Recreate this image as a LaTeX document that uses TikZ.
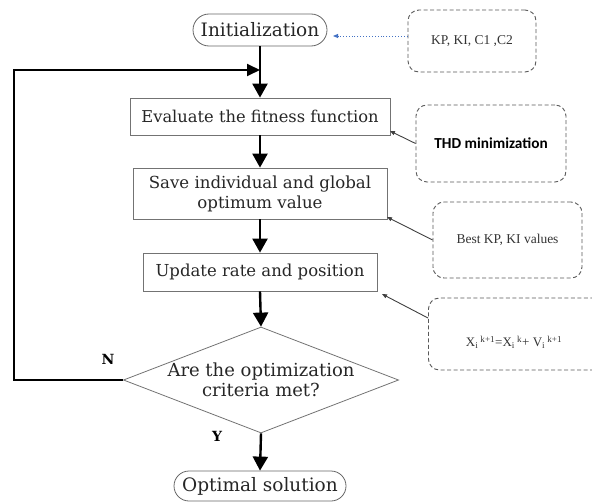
\documentclass[tikz,border=0pt]{standalone}
\usepackage{fontspec}
\newfontfamily\timesf{Liberation Serif}
\newfontfamily\calib{Carlito}
\newfontfamily\dvs{DejaVu Serif}
\usetikzlibrary{arrows.meta,shapes.geometric,shapes.misc}
\definecolor{linkblue}{RGB}{68,114,196}
\begin{document}
\begin{tikzpicture}[x=1pt,y=-1pt,
  proc/.style={draw=black!55,line width=0.8pt,minimum height=#1,inner sep=1pt,align=center,text=black!85},
  term/.style={draw=black!60,line width=0.8pt,rounded rectangle,inner sep=1pt,text=black!85},
  note/.style={draw=black!65,dashed,line width=0.9pt,rounded corners=11pt,dash pattern=on 4pt off 2.5pt},
  flow/.style={line width=2.4pt,-{Triangle[length=14pt,width=15pt]}},
  thin/.style={draw=black!75,line width=0.9pt,-{Triangle[length=5pt,width=4pt]}}]
\useasboundingbox (0,0) rectangle (592,503);
% main flow
\node[term,minimum width=136pt,minimum height=32pt,font=\dvs\fontsize{18.5}{20}\selectfont] (init) at (260,30) {Initialization};
\node[proc=37pt,minimum width=260pt,font=\dvs\fontsize{16.3}{20}\selectfont] (eval) at (260,116.5) {Evaluate the fitness function};
\node[proc=51pt,minimum width=254pt,font=\dvs\fontsize{16.6}{20}\selectfont] (save) at (260,193.5) {Save individual and global\\optimum value};
\node[proc=38pt,minimum width=234pt,font=\dvs\fontsize{16.5}{20}\selectfont] (upd) at (260,272) {Update rate and position};
\node[draw=black!55,line width=0.8pt,diamond,aspect=2.6,minimum width=274pt,minimum height=106pt,inner sep=0pt,font=\dvs\fontsize{18}{20}\selectfont,align=center,text=black!85] (dec) at (261,380) {Are the optimization\\criteria met?};
\node[term,minimum width=174pt,minimum height=30pt,font=\dvs\fontsize{18.5}{20}\selectfont] (opt) at (260,486) {Optimal solution};
\coordinate (join) at (260,70);
\coordinate (lc1) at (14,380);
\coordinate (lc2) at (14,70);
\draw[line width=2.4pt] (init.south) -- (join);
\draw[flow] (join) -- (eval.north);
\draw[flow] (eval.south) -- (save.north);
\draw[flow] (save.south) -- (upd.north);
\draw[flow] (upd.south) -- (dec.north);
\draw[flow] (dec.south) -- (opt.north);
\draw[line width=1.8pt,-{Triangle[length=13pt,width=12pt]}] (dec.west) -- (lc1) -- (lc2) -- (join);
\node[font=\dvs\bfseries\fontsize{14}{15}\selectfont] (nlab) at (108,359) {N};
\node[font=\dvs\bfseries\fontsize{14}{15}\selectfont] (ylab) at (217,436) {Y};
% notes
\node[note,minimum width=128pt,minimum height=62pt,font=\timesf\fontsize{13.5}{15}\selectfont,text=black!80] (n1) at (472,41) {KP, KI, C1 ,C2};
\node[note,minimum width=150pt,minimum height=77pt,font=\calib\bfseries\fontsize{15.3}{16}\selectfont] (n2) at (491,143.5) {THD minimization};
\node[note,minimum width=149pt,minimum height=76pt,font=\timesf\fontsize{13.5}{15}\selectfont,text=black!80] (n3) at (507.5,240) {Best KP, KI values};
\node[note,minimum width=190pt,minimum height=72pt,anchor=west] (n4) at (428,334) {};
\node[font=\timesf\fontsize{13}{14}\selectfont,text=black!80] (eq) at (514,342) {X\textsubscript{i}\,\textsuperscript{k+1}=X\textsubscript{i}\,\textsuperscript{k}+ V\textsubscript{i}\,\textsuperscript{k+1}};
\coordinate (e1) at (390,131);
\coordinate (e2) at (387,217);
\coordinate (e3) at (382,294);
\draw[linkblue,dotted,line width=0.9pt,-{Triangle[length=5pt,width=4pt]}] (n1.west|-0,36) -- (333,36);
\draw[thin] (n2.west) -- (e1);
\draw[thin] (n3.west) -- (e2);
\draw[thin] (428,318) -- (e3);
\end{tikzpicture}
\end{document}
